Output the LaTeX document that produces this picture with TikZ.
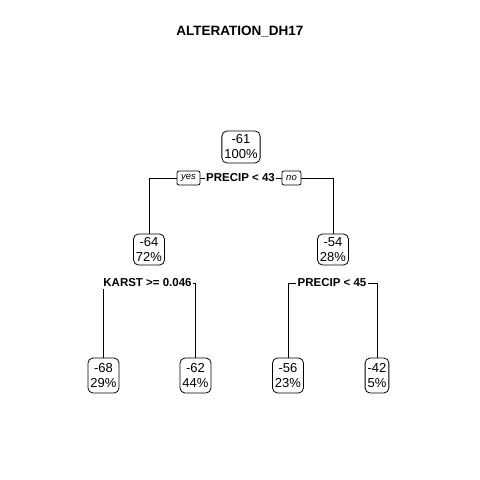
\documentclass[tikz,border=0pt]{standalone}
\usepackage{fontspec}
\setmainfont{Liberation Sans}
\usetikzlibrary{backgrounds}
\begin{document}
\begin{tikzpicture}[x=1pt,y=-1pt,
  nodebox/.style={draw, line width=0.8pt, rounded corners=5pt, fill=white, align=center,
    font=\fontsize{13}{15}\selectfont, inner xsep=2.5pt, inner ysep=2pt, minimum height=31pt},
  leafbox/.style={nodebox, minimum height=35pt},
  splitlab/.style={fill=white, inner xsep=1.5pt, inner ysep=2pt,
    font=\fontsize{11.5}{13}\selectfont\bfseries},
  yesno/.style={draw, line width=0.8pt, rounded corners=2pt, fill=white, inner sep=0pt,
    minimum height=14pt, font=\fontsize{9.5}{11}\selectfont\itshape},
  edge/.style={line width=0.8pt}]
\useasboundingbox (0,0) rectangle (480,480);
\node[font=\fontsize{13.5}{16}\selectfont\bfseries] (title) at (240,32) {ALTERATION\_DH17};
% nodes
\node[nodebox, minimum height=32pt] (n1) at (241,147) {-61\\100\%};
\node[nodebox] (n2) at (149,249.5) {-64\\72\%};
\node[nodebox] (n3) at (333,249.5) {-54\\28\%};
\node[leafbox] (n4) at (103.5,375.5) {-68\\29\%};
\node[leafbox] (n5) at (195.5,375.5) {-62\\44\%};
\node[leafbox] (n6) at (288,375.5) {-56\\23\%};
\node[leafbox] (n7) at (377,375.5) {-42\\5\%};
% split labels
\node[splitlab] (s1) at (240.5,178) {PRECIP < 43};
\node[yesno, minimum width=23pt] (yes) at (188.5,178) {yes};
\node[yesno, minimum width=19pt] (no) at (291.5,178) {no};
\node[splitlab] (s2) at (147.5,283) {KARST >= 0.046};
\node[splitlab] (s3) at (332,283) {PRECIP < 45};
% connectors
\begin{scope}[on background layer]
\draw[edge] (s1.center) -| (n2.north);
\draw[edge] (s1.center) -| (n3.north);
\draw[edge] (s2.center) -| (n4.north);
\draw[edge] (s2.center) -| (n5.north);
\draw[edge] (s3.center) -| (n6.north);
\draw[edge] (s3.center) -| (n7.north);
\end{scope}
\end{tikzpicture}
\end{document}
